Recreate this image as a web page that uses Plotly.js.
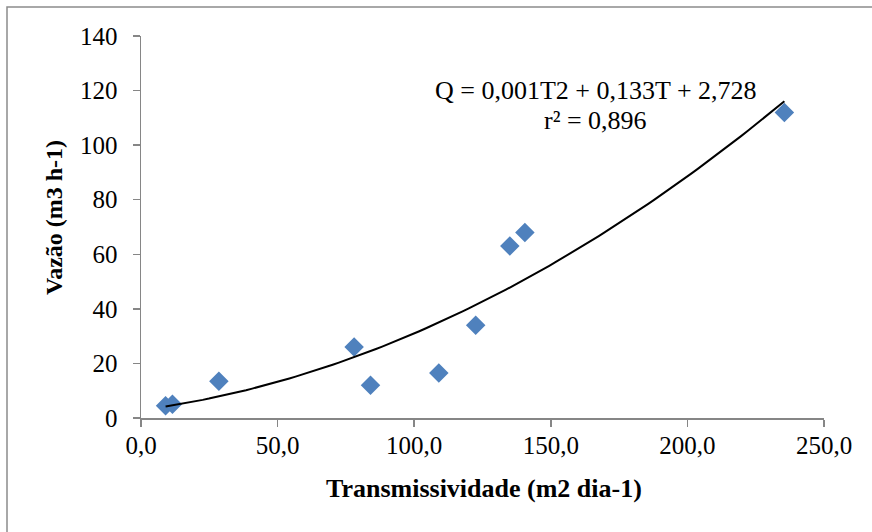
<!DOCTYPE html>
<html>
<head>
<meta charset="utf-8">
<script src="https://cdn.plot.ly/plotly-3.0.1.min.js"></script>
<style>html,body{margin:0;padding:0;background:#fff;}#chart{width:872px;height:532px;}</style>
</head>
<body>
<div id="chart"></div>
<script>
// Data
const transmissividade = [9, 11.5, 28.5, 78, 84, 109, 122.5, 135, 140.5, 235.5];
const vazao = [4.5, 5, 13.5, 26, 12, 16.5, 34, 63, 68, 112];
const xTicks = [0, 50, 100, 150, 200, 250];
const yTicks = [0, 20, 40, 60, 80, 100, 120, 140];
const equationText = "Q = 0,001T2 + 0,133T + 2,728";
const r2Text = "r² = 0,896";
const xTitle = "Transmissividade (m2 dia-1)";
const yTitle = "Vazão (m3 h-1)";

// Quadratic least-squares trendline (like Excel's polynomial trendline)
function polyfit2(xs, ys) {
  let n = xs.length, sx = 0, sx2 = 0, sx3 = 0, sx4 = 0, sy = 0, sxy = 0, sx2y = 0;
  for (let i = 0; i < n; i++) {
    const x = xs[i], y = ys[i];
    sx += x; sx2 += x * x; sx3 += x * x * x; sx4 += x * x * x * x;
    sy += y; sxy += x * y; sx2y += x * x * y;
  }
  const M = [[n, sx, sx2, sy], [sx, sx2, sx3, sxy], [sx2, sx3, sx4, sx2y]];
  for (let c = 0; c < 3; c++) {
    for (let r = c + 1; r < 3; r++) {
      const f = M[r][c] / M[c][c];
      for (let k = c; k < 4; k++) M[r][k] -= f * M[c][k];
    }
  }
  const b = [0, 0, 0];
  for (let r = 2; r >= 0; r--) {
    let s = M[r][3];
    for (let k = r + 1; k < 3; k++) s -= M[r][k] * b[k];
    b[r] = s / M[r][r];
  }
  return b; // c0, c1, c2
}
const coef = polyfit2(transmissividade, vazao);
const tMin = Math.min(...transmissividade), tMax = Math.max(...transmissividade);
const trendX = [], trendY = [];
for (let i = 0; i <= 100; i++) {
  const t = tMin + (tMax - tMin) * i / 100;
  trendX.push(t);
  trendY.push(coef[0] + coef[1] * t + coef[2] * t * t);
}

const FONT = '"Liberation Serif", "Times New Roman", serif';
const AXIS_COLOR = '#868686';

const traces = [
  {
    x: transmissividade, y: vazao, type: 'scatter', mode: 'markers',
    marker: {symbol: 'diamond', size: 15, color: '#4F81BD', line: {width: 0}},
    hoverinfo: 'x+y', showlegend: false
  },
  {
    x: trendX, y: trendY, type: 'scatter', mode: 'lines',
    line: {color: '#000000', width: 2}, hoverinfo: 'skip', showlegend: false
  }
];

const layout = {
  width: 872, height: 532,
  margin: {l: 141, r: 48, t: 36, b: 114, pad: 0},
  paper_bgcolor: '#ffffff', plot_bgcolor: '#ffffff',
  font: {family: FONT, color: '#000000', size: 25},
  separators: ', ',
  showlegend: false,
  xaxis: {
    range: [0, 250], tickvals: xTicks, tickformat: '.1f',
    showgrid: false, zeroline: false,
    showline: true, linecolor: AXIS_COLOR, linewidth: 1.5,
    ticks: 'outside', ticklen: 7, tickcolor: AXIS_COLOR, tickwidth: 1.5,
    tickfont: {family: FONT, size: 25, color: '#000'},
    ticklabelstandoff: -3
  },
  yaxis: {
    range: [0, 140], tickvals: yTicks,
    showgrid: false, zeroline: false,
    showline: true, linecolor: AXIS_COLOR, linewidth: 1.5,
    ticks: 'outside', ticklen: 7, tickcolor: AXIS_COLOR, tickwidth: 1.5,
    tickfont: {family: FONT, size: 25, color: '#000'},
    ticklabelstandoff: 10
  },
  shapes: [
    {type: 'rect', xref: 'paper', yref: 'paper',
     x0: (7 - 141) / 683, x1: 1.3, y0: -0.5, y1: (418 - 7) / 382,
     line: {color: '#8c8c8c', width: 1.5}, fillcolor: 'rgba(0,0,0,0)', layer: 'below'}
  ],
  annotations: [
    {text: equationText, xref: 'x', yref: 'y', x: 166.5, y: 120.2,
     showarrow: false, xanchor: 'center', yanchor: 'middle',
     font: {family: FONT, size: 26, color: '#000'}},
    {text: r2Text, xref: 'x', yref: 'y', x: 166.5, y: 109.2,
     showarrow: false, xanchor: 'center', yanchor: 'middle',
     font: {family: FONT, size: 26, color: '#000'}},
    {text: '<b>' + xTitle + '</b>', xref: 'paper', yref: 'paper',
     x: (484 - 141) / 683, y: (418 - 489) / 382,
     showarrow: false, xanchor: 'center', yanchor: 'middle',
     font: {family: FONT, size: 26, color: '#000'}},
    {text: '<b>' + yTitle + '</b>', xref: 'paper', yref: 'paper',
     x: (54 - 141) / 683, y: (418 - 218) / 382, textangle: -90,
     showarrow: false, xanchor: 'center', yanchor: 'middle',
     font: {family: FONT, size: 24, color: '#000'}}
  ]
};

Plotly.newPlot('chart', traces, layout, {staticPlot: true, displayModeBar: false});
</script>
</body>
</html>
